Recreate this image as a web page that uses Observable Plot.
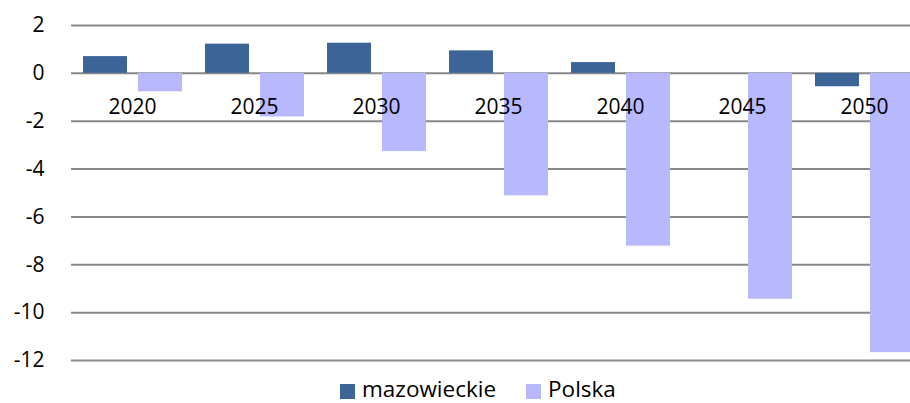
<!DOCTYPE html>
<html>
<head>
<meta charset="utf-8">
<script src="https://cdn.jsdelivr.net/npm/d3@7"></script>
<script src="https://cdn.jsdelivr.net/npm/@observablehq/plot@0.6"></script>
<style>
  html, body { margin: 0; padding: 0; background: #fff; overflow: hidden; }
  #wrap { position: relative; width: 910px; height: 403px; }
  #legend { position: absolute; left: 340px; top: 376px; display: flex; align-items: center;
    font-family: "Open Sans", sans-serif; font-size: 22.5px; line-height: 26px; color: #000; white-space: nowrap; }
  #legend .sw { display: inline-block; width: 15px; height: 15px; margin-right: 7px; position: relative; top: 2px; }
  #legend .item { display: flex; align-items: center; margin-right: 30px; }
</style>
</head>
<body>
<div id="wrap"><div id="chart"></div><div id="legend"></div></div>
<script>
const years = ["2020", "2025", "2030", "2035", "2040", "2045", "2050"];
const series = ["mazowieckie", "Polska"];
const mazowieckie = [0.70, 1.22, 1.26, 0.94, 0.45, 0.0, -0.56];
const polska = [-0.77, -1.82, -3.27, -5.12, -7.22, -9.44, -11.67];
const colors = ["#3c6497", "#b7b8fe"];
const yTicks = [2, 0, -2, -4, -6, -8, -10, -12];

const data = [];
years.forEach((y, i) => {
  data.push({year: y, series: series[0], value: mazowieckie[i]});
  data.push({year: y, series: series[1], value: polska[i]});
});

const chart = Plot.plot({
  width: 910,
  height: 372,
  marginLeft: 71,
  marginRight: -15,
  marginTop: 25,
  marginBottom: 12,
  style: {fontFamily: "'Open Sans', sans-serif", fontSize: "21px", color: "#000", overflow: "hidden", background: "#fff"},
  fx: {domain: years, padding: 0, axis: null, label: null},
  x: {domain: series, paddingInner: 0.2, paddingOuter: 0.209, axis: null},
  y: {domain: [-12, 2], ticks: yTicks, tickSize: 0, tickPadding: 27, label: null, tickFormat: d => String(d)},
  color: {domain: series, range: colors},
  marks: [
    Plot.ruleY(yTicks, {stroke: "#888888", strokeWidth: 2}),
    Plot.barY(data, {fx: "year", x: "series", y: "value", fill: "series"}),
    Plot.text(years, {fx: d => d, y: () => 0, text: d => d, dy: 34, fontSize: 21, fill: "#000"})
  ]
});
document.getElementById("chart").appendChild(chart);

const legend = document.getElementById("legend");
series.forEach((s, i) => {
  const item = document.createElement("span");
  item.className = "item";
  const sw = document.createElement("span");
  sw.className = "sw";
  sw.style.background = colors[i];
  item.appendChild(sw);
  item.appendChild(document.createTextNode(s));
  legend.appendChild(item);
});
</script>
</body>
</html>
